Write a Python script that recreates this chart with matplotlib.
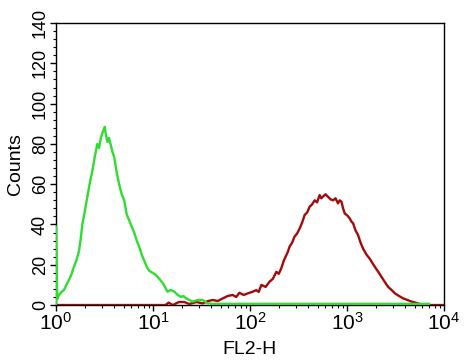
import numpy as np
import matplotlib
matplotlib.use('Agg')
import matplotlib.pyplot as plt
from matplotlib.ticker import FixedLocator, MultipleLocator, LogLocator, NullFormatter

plt.rcParams['font.family'] = ['Liberation Sans', 'DejaVu Sans']

# green histogram (FL2-H, counts)
green_x = [1.0, 1.0, 1.03, 1.07, 1.14, 1.21, 1.28, 1.36, 1.44, 1.53, 1.62, 1.73, 1.80,
           1.87, 1.99, 2.11, 2.24, 2.38, 2.52, 2.67, 2.78, 2.90, 3.04, 3.18, 3.28,
           3.40, 3.52, 3.67, 3.82, 3.98, 4.22, 4.48, 4.76, 5.05, 5.36, 5.69, 6.03,
           6.40, 6.80, 7.21, 7.66, 8.13, 8.62, 9.14, 9.90, 10.7, 11.6, 12.6, 13.3,
           14.1, 15.3, 16.6, 18.0, 19.5, 20.6, 21.9, 23.7, 25.6, 28.8, 32.5, 36.0,
           40.0, 60.0, 100.0, 300.0, 1000.0, 3000.0, 7000.0]
green_y = [0.5, 39, 3, 5, 6.5, 7.5, 10, 12.5, 15, 19, 22, 27, 33,
           40, 47, 54, 61, 67, 74, 80, 78, 83, 86, 88.5, 84,
           81, 83, 79.5, 76, 73.6, 66, 60, 55, 52, 45, 42, 39,
           36, 32, 29, 25, 22, 19, 17, 16, 15, 13, 11, 9,
           6.6, 7.5, 6.6, 5, 4, 4.5, 3.4, 2.5, 1.7, 2.5, 2.5, 1.0,
           0.6, 0.6, 0.6, 0.6, 0.6, 0.6, 0.6]

# red histogram (FL2-H, counts)
red_x = [1.0, 10.0, 13.5, 14.5, 16.0, 18.5, 21.0, 23.7, 28.0, 32.5, 37.0, 41.3,
         46.5, 52.4, 59.0, 66.4, 72.0, 77.8, 86.0, 94.9, 105.0, 116.0, 123.0,
         131.0, 145.0, 159.0, 172.0, 187.0, 198.0, 210.0, 223.0, 237.0, 246.0,
         256.0, 272.0, 288.0, 306.0, 325.0, 345.0, 366.0, 389.0, 412.0, 437.0,
         464.0, 492.0, 523.0, 543.0, 565.0, 600.0, 637.0, 676.0, 718.0, 762.0,
         808.0, 842.0, 877.0, 912.0, 948.0, 1006.0, 1067.0, 1110.0, 1156.0,
         1226.0, 1300.0, 1380.0, 1466.0, 1590.0, 1718.0, 1820.0, 1936.0, 2100.0,
         2270.0, 2450.0, 2656.0, 2880.0, 3119.0, 3440.0, 3796.0, 4200.0, 4634.0,
         5100.0, 5649.0, 7000.0, 8410.0, 10000.0]
red_y = [0, 0, 0, 1.2, 0, 1.5, 1.5, 0.5, 1.5, 0.8, 2, 2.5,
         2, 3.3, 4.5, 5, 4, 6.1, 5, 5.8, 6.5, 7.4, 6.5,
         10, 9, 11.6, 13, 16.5, 15.5, 18.2, 22, 24.8, 26.5,
         29, 31, 34, 35.5, 38, 41, 44.7, 46, 48.8, 50,
         52, 51, 54.6, 53, 53.8, 55, 53.8, 52.5, 52, 53,
         50.5, 52, 51.3, 48, 45.5, 44.5, 43, 41.5, 40.6,
         37, 34.8, 31, 28, 25, 23, 21, 19, 16.5,
         14, 11.5, 9, 7.5, 5.8, 4.5, 3.3, 2.5, 1.7,
         1.2, 0.5, 0, 0, 0]

fig = plt.figure(figsize=(4.65, 3.61), dpi=100)
ax = fig.add_axes([0.1204, 0.155, 0.8344, 0.781])

ax.plot(red_x, red_y, color='#a30a0a', lw=1.7, zorder=3)
ax.plot(green_x, green_y, color='#2fdc2f', lw=1.7, zorder=4)

ax.set_xscale('log')
ax.set_xlim(1, 10000)
ax.set_ylim(0, 140)

ax.yaxis.set_major_locator(MultipleLocator(20))
ax.yaxis.set_minor_locator(MultipleLocator(4))
ax.xaxis.set_major_locator(FixedLocator([1, 10, 100, 1000, 10000]))
ax.xaxis.set_minor_locator(LogLocator(base=10, subs=np.arange(2, 10)))
ax.xaxis.set_minor_formatter(NullFormatter())
ax.set_xticklabels([r'$\mathregular{10^0}$', r'$\mathregular{10^1}$',
                    r'$\mathregular{10^2}$', r'$\mathregular{10^3}$',
                    r'$\mathregular{10^4}$'])

ax.tick_params(axis='x', which='major', direction='out', length=4, width=1,
               labelsize=15, pad=1)
ax.tick_params(axis='x', which='minor', direction='out', length=2.5, width=0.8)
ax.tick_params(axis='y', which='major', direction='out', length=4, width=1,
               labelsize=13, pad=1)
ax.tick_params(axis='y', which='minor', direction='out', length=2.5, width=0.8)
for lbl in ax.get_yticklabels():
    lbl.set_rotation(90)
    lbl.set_va('center')

for s in ax.spines.values():
    s.set_linewidth(1.0)
    s.set_color('black')

ax.set_xlabel('FL2-H', fontsize=14, labelpad=5)
ax.set_ylabel('Counts', fontsize=14, labelpad=6)

fig.savefig('out.png', dpi=100)
